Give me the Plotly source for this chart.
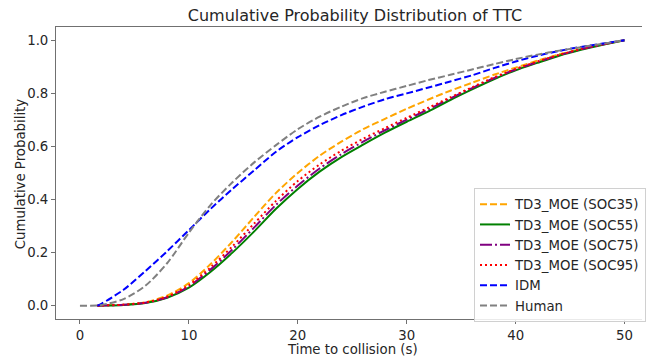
import plotly.graph_objects as go

# Time to collision grid (s)
ttc = [0, 1.6, 2, 4, 6, 8, 10, 12, 14, 16, 18, 20, 22, 24, 26, 28, 30,
       32, 34, 36, 38, 40, 42, 44, 46, 48, 50]

# Cumulative probability per controller
soc35 = [None, 0.0, 0.001, 0.004, 0.013, 0.038, 0.085, 0.157, 0.242, 0.335, 0.425, 0.50,
         0.565, 0.618, 0.665, 0.704, 0.742, 0.777, 0.81, 0.84, 0.87, 0.897, 0.923,
         0.947, 0.967, 0.984, 1.0]
soc55 = [None, 0.0, 0.0005, 0.003, 0.01, 0.03, 0.068, 0.128, 0.2, 0.28, 0.365, 0.44,
         0.505, 0.56, 0.607, 0.652, 0.693, 0.732, 0.775, 0.815, 0.853, 0.887, 0.915,
         0.942, 0.964, 0.983, 1.0]
soc75 = [None, 0.0, 0.0006, 0.0035, 0.011, 0.032, 0.073, 0.137, 0.212, 0.295, 0.38, 0.453,
         0.517, 0.571, 0.618, 0.661, 0.701, 0.74, 0.781, 0.82, 0.857, 0.89, 0.918,
         0.944, 0.966, 0.984, 1.0]
soc95 = [None, 0.0, 0.0008, 0.004, 0.012, 0.034, 0.078, 0.145, 0.224, 0.31, 0.395, 0.47,
         0.532, 0.584, 0.629, 0.669, 0.708, 0.746, 0.785, 0.823, 0.86, 0.892, 0.92,
         0.945, 0.967, 0.985, 1.0]
idm = [None, 0.0, 0.008, 0.06, 0.13, 0.205, 0.285, 0.365, 0.44, 0.51, 0.58, 0.635,
       0.68, 0.718, 0.75, 0.778, 0.80, 0.822, 0.845, 0.868, 0.895, 0.92, 0.942,
       0.96, 0.975, 0.988, 1.0]
human = [0.0, 0.001, 0.003, 0.025, 0.075, 0.16, 0.275, 0.38, 0.465, 0.54, 0.605, 0.665,
         0.712, 0.75, 0.782, 0.806, 0.828, 0.85, 0.87, 0.89, 0.91, 0.929, 0.946,
         0.961, 0.974, 0.987, 1.0]

# matplotlib-like dash patterns for 2px lines
DASHED = "7px,3px"
DOTTED = "2px,3px"
DASHDOT = "12px,3px,2px,3px"

series = [
    ("TD3_MOE (SOC35)", soc35, "#FFA500", DASHED),
    ("TD3_MOE (SOC55)", soc55, "#008000", "solid"),
    ("TD3_MOE (SOC75)", soc75, "#800080", DASHDOT),
    ("TD3_MOE (SOC95)", soc95, "#FF0000", DOTTED),
    ("IDM", idm, "#0000FF", DASHED),
    ("Human", human, "#808080", DASHED),
]

FONT = "DejaVu Sans"
TXT = "#262626"
FS = 13.3

fig = go.Figure()
for name, ys, color, dash in series:
    fig.add_trace(go.Scatter(
        x=ttc, y=ys, name=name, mode="lines",
        line=dict(color=color, width=2, dash=dash, shape="spline", smoothing=0.8),
    ))

# plot area spans x 56..646 px and y 27..319 px
PL, PW, PT, PH = 56, 590, 27, 292

fig.update_layout(
    width=646, height=358,
    margin=dict(l=PL, r=0, t=PT, b=358 - PT - PH),
    plot_bgcolor="white", paper_bgcolor="white",
    font=dict(family=FONT, size=FS, color=TXT),
    title=dict(text="Cumulative Probability Distribution of TTC",
               x=355 / 646, xref="container", xanchor="center",
               y=1 - 15 / 358, yref="container", yanchor="middle",
               font=dict(family=FONT, size=16, color=TXT)),
    legend=dict(x=(477 - PL) / PW, xanchor="left", y=(PT + PH - 188) / PH, yanchor="top",
                bgcolor="rgba(255,255,255,0.85)", bordercolor="#d0d0d0", borderwidth=1,
                font=dict(family=FONT, size=FS, color=TXT)),
    showlegend=True,
    annotations=[
        dict(text="Time to collision (s)", xref="paper", yref="paper",
             x=(355 - PL) / PW, y=(PT + PH - 349) / PH,
             xanchor="center", yanchor="middle", showarrow=False,
             font=dict(family=FONT, size=FS, color=TXT)),
        dict(text="Cumulative Probability", xref="paper", yref="paper",
             x=(20 - PL) / PW, y=(PT + PH - 174) / PH, textangle=-90,
             xanchor="center", yanchor="middle", showarrow=False,
             font=dict(family=FONT, size=FS, color=TXT)),
    ],
)

fig.update_xaxes(
    range=[-2.2, 51.6], tickvals=[0, 10, 20, 30, 40, 50],
    showgrid=False, zeroline=False,
    showline=True, linecolor="#707070", linewidth=1, mirror=True,
    ticks="outside", ticklen=4, tickcolor="#707070",
    tickfont=dict(size=FS),
)
fig.update_yaxes(
    range=[-0.05, 1.05], tickvals=[0, 0.2, 0.4, 0.6, 0.8, 1.0], tickformat=".1f",
    showgrid=False, zeroline=False,
    showline=True, linecolor="#707070", linewidth=1, mirror=False,
    ticks="outside", ticklen=4, tickcolor="#707070",
    tickfont=dict(size=FS),
)

fig.write_html("out.html")
